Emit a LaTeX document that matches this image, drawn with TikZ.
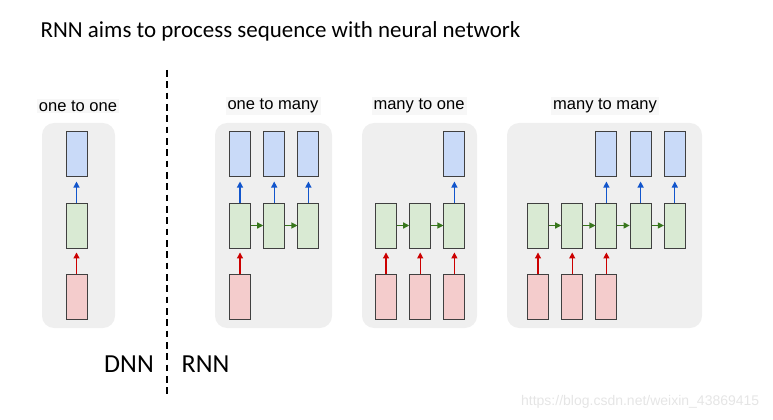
\documentclass[tikz,border=0pt]{standalone}
\usepackage{fontspec}
\setmainfont{Carlito}
\newfontfamily\arialfont{Liberation Sans}
\usetikzlibrary{positioning, arrows.meta}

\definecolor{outblue}{HTML}{C9DAF8}
\definecolor{hidgreen}{HTML}{D9EAD3}
\definecolor{inred}{HTML}{F4CCCC}
\definecolor{arrblue}{HTML}{1155CC}
\definecolor{arrgreen}{HTML}{38761D}
\definecolor{arrred}{HTML}{CC0000}
\definecolor{panelgray}{HTML}{EFEFEF}

\begin{document}
\begin{tikzpicture}[
        x=0.75pt, y=-0.75pt,
        node distance=19.5pt and 9.2pt,
        cell/.style={rectangle, draw=black!75, line width=0.7pt, minimum width=15.75pt, minimum height=33.75pt, inner sep=0pt},
        outcell/.style={cell, fill=outblue},
        hidcell/.style={cell, fill=hidgreen},
        incell/.style={cell, fill=inred},
        panel/.style={rectangle, rounded corners=9pt, fill=panelgray, minimum height=153.75pt, inner sep=0pt},
        caption/.style={font=\arialfont\fontsize{12.4}{14}\selectfont, fill=black!3, inner sep=1.5pt},
        uparrow/.style={-{Triangle[length=4.5pt, width=4.5pt]}, line width=0.9pt},
        rightarrow/.style={-{Triangle[length=4.5pt, width=4.5pt]}, line width=0.9pt, draw=arrgreen}
    ]
        \useasboundingbox (0,0) rectangle (773,420);

        \node[anchor=west, font=\fontsize{17.2}{20}\selectfont] (title) at (36,31) {RNN aims to process sequence with neural network};

        % grey panels behind each case
        \node[panel, minimum width=54.75pt] (p1) at (78.5,225.5) {};
        \node[panel, minimum width=87.75pt] (p2) at (273.5,225.5) {};
        \node[panel, minimum width=86.25pt] (p3) at (419.5,225.5) {};
        \node[panel, minimum width=146.25pt] (p4) at (604.5,225.5) {};

        \node[caption] (c1) at (78,106) {one to one};
        \node[caption] (c2) at (273,106) {one to many};
        \node[caption] (c3) at (419,106) {many to one};
        \node[caption] (c4) at (605,106) {many to many};

        % one to one
        \node[hidcell] (ah1) at (76.5,225.5) {};
        \node[outcell, above=of ah1] (ao1) {};
        \node[incell, below=of ah1] (ai1) {};
        \draw[uparrow, draw=arrred, shorten >=3pt] (ai1) -- (ah1);
        \draw[uparrow, draw=arrblue, shorten >=3.75pt] (ah1) -- (ao1);

        % one to many
        \node[hidcell] (bh1) at (240,225.5) {};
        \node[hidcell, right=of bh1] (bh2) {};
        \node[hidcell, right=of bh2] (bh3) {};
        \node[outcell, above=of bh1] (bo1) {};
        \node[outcell, above=of bh2] (bo2) {};
        \node[outcell, above=of bh3] (bo3) {};
        \node[incell, below=of bh1] (bi1) {};
        \draw[uparrow, draw=arrred, shorten >=3pt] (bi1) -- (bh1);
        \draw[uparrow, draw=arrblue, shorten >=3.75pt] (bh1) -- (bo1);
        \draw[uparrow, draw=arrblue, shorten >=3.75pt] (bh2) -- (bo2);
        \draw[uparrow, draw=arrblue, shorten >=3.75pt] (bh3) -- (bo3);
        \draw[rightarrow] (bh1) -- (bh2);
        \draw[rightarrow] (bh2) -- (bh3);

        % many to one
        \node[hidcell] (ch1) at (386,225.5) {};
        \node[hidcell, right=of ch1] (ch2) {};
        \node[hidcell, right=of ch2] (ch3) {};
        \node[outcell, above=of ch3] (co3) {};
        \node[incell, below=of ch1] (ci1) {};
        \node[incell, below=of ch2] (ci2) {};
        \node[incell, below=of ch3] (ci3) {};
        \draw[uparrow, draw=arrred, shorten >=3pt] (ci1) -- (ch1);
        \draw[uparrow, draw=arrred, shorten >=3pt] (ci2) -- (ch2);
        \draw[uparrow, draw=arrred, shorten >=3pt] (ci3) -- (ch3);
        \draw[uparrow, draw=arrblue, shorten >=3.75pt] (ch3) -- (co3);
        \draw[rightarrow] (ch1) -- (ch2);
        \draw[rightarrow] (ch2) -- (ch3);

        % many to many
        \node[hidcell] (dh1) at (538,225.5) {};
        \node[hidcell, right=of dh1] (dh2) {};
        \node[hidcell, right=of dh2] (dh3) {};
        \node[hidcell, right=of dh3] (dh4) {};
        \node[hidcell, right=of dh4] (dh5) {};
        \node[outcell, above=of dh3] (do3) {};
        \node[outcell, above=of dh4] (do4) {};
        \node[outcell, above=of dh5] (do5) {};
        \node[incell, below=of dh1] (di1) {};
        \node[incell, below=of dh2] (di2) {};
        \node[incell, below=of dh3] (di3) {};
        \draw[uparrow, draw=arrred, shorten >=3pt] (di1) -- (dh1);
        \draw[uparrow, draw=arrred, shorten >=3pt] (di2) -- (dh2);
        \draw[uparrow, draw=arrred, shorten >=3pt] (di3) -- (dh3);
        \draw[uparrow, draw=arrblue, shorten >=3.75pt] (dh3) -- (do3);
        \draw[uparrow, draw=arrblue, shorten >=3.75pt] (dh4) -- (do4);
        \draw[uparrow, draw=arrblue, shorten >=3.75pt] (dh5) -- (do5);
        \draw[rightarrow] (dh1) -- (dh2);
        \draw[rightarrow] (dh2) -- (dh3);
        \draw[rightarrow] (dh3) -- (dh4);
        \draw[rightarrow] (dh4) -- (dh5);

        % divider between DNN and RNN
        \coordinate (divtop) at (167,70);
        \coordinate (divbot) at (167,396);
        \draw[line width=1.3pt, dash pattern=on 5pt off 3.5pt] (divtop) -- (divbot);
        \node[font=\fontsize{19.5}{22}\selectfont] (dnn) at (129,364) {DNN};
        \node[font=\fontsize{19.5}{22}\selectfont] (rnn) at (205.5,364) {RNN};

        \node[anchor=east, font=\arialfont\fontsize{10.5}{12}\selectfont, text=black!10] (mark) at (764,402) {https://blog.csdn.net/weixin\_43869415};
    \end{tikzpicture}
\end{document}
